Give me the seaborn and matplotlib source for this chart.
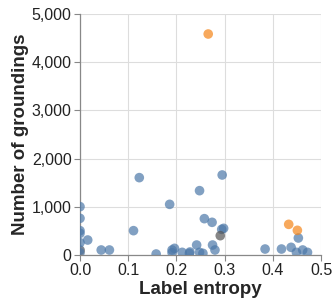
import matplotlib
matplotlib.use("Agg")
import matplotlib.pyplot as plt
import seaborn as sns
import pandas as pd
from matplotlib.ticker import FuncFormatter, MultipleLocator

entropy = [0.0,
           0.0, 0.0, 0.0, 0.0, 0.0, 0.0, 0.0, 0.016, 0.044, 0.061, 0.111, 0.123,
           0.158, 0.186, 0.191, 0.191, 0.196, 0.212, 0.227, 0.228, 0.242, 0.248,
           0.248, 0.255, 0.258, 0.274, 0.275, 0.280, 0.295, 0.294, 0.298, 0.384,
           0.418, 0.438, 0.449, 0.453, 0.462, 0.472,
           0.291,
           0.266, 0.433, 0.451]
groundings = [90,
              1003, 761, 505, 450, 256, 104, 48, 311, 104, 104, 505, 1605,
              21, 1051, 104, 48, 138, 55, 35, 62, 207, 1335,
              55, 35, 754, 678, 207, 104, 1660, 532, 553, 124,
              124, 159, 55, 353, 104, 55,
              401,
              4585, 636, 512]
group = ["c"] + ["a"] * 38 + ["b"] + ["c"] * 3

df = pd.DataFrame({"entropy": entropy, "groundings": groundings, "group": group})

sns.set_theme(style="white")
plt.rcParams["font.family"] = ["Liberation Sans", "DejaVu Sans"]

fig = plt.figure(figsize=(3.35, 3.08), dpi=100)
ax = fig.add_axes([80 / 335, (308 - 255) / 308, 241 / 335, 241 / 308])

sns.scatterplot(data=df, x="entropy", y="groundings", hue="group",
                palette={"a": "#4c78a8", "b": "#555555", "c": "#f58518"},
                s=48, alpha=0.7, linewidth=0, legend=False, ax=ax, zorder=3)

ax.set_xlim(0, 0.5)
ax.set_ylim(0, 5000)
ax.xaxis.set_major_locator(MultipleLocator(0.1))
ax.yaxis.set_major_locator(MultipleLocator(1000))
ax.xaxis.set_major_formatter(FuncFormatter(lambda v, p: f"{v:.1f}"))
ax.yaxis.set_major_formatter(FuncFormatter(lambda v, p: f"{int(v):,}"))
ax.grid(True, color="#dddddd", linewidth=0.8, zorder=0)
ax.set_axisbelow(True)
for s in ["top", "right"]:
    ax.spines[s].set_visible(False)
for s in ["left", "bottom"]:
    ax.spines[s].set_color("#888888")
    ax.spines[s].set_linewidth(0.9)
ax.tick_params(axis="both", which="major", direction="out", length=4, width=0.8,
               color="#888888", labelsize=11.5, labelcolor="#222222", pad=2,
               bottom=True, left=True)
ax.set_xlabel("Label entropy", fontsize=13.5, fontweight="bold", labelpad=2)
ax.set_ylabel("Number of groundings", fontsize=13.5, fontweight="bold", labelpad=2)

fig.savefig("out.png", dpi=100)
